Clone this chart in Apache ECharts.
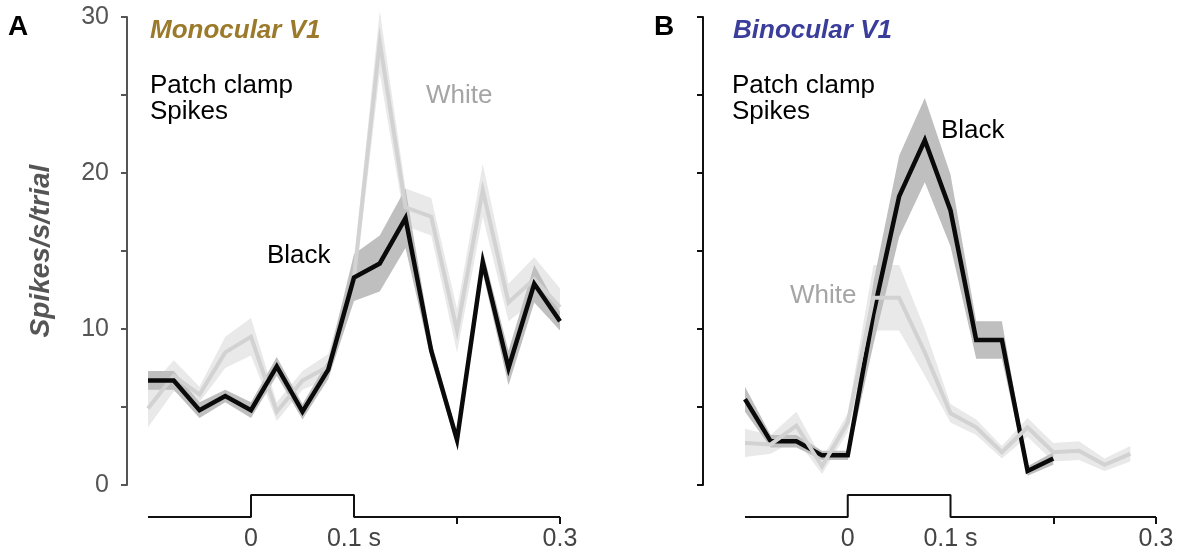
<!DOCTYPE html>
<html>
<head>
<meta charset="utf-8">
<script src="https://cdn.jsdelivr.net/npm/echarts@6/dist/echarts.min.js"></script>
<style>
  html, body { margin: 0; padding: 0; background: #fff; }
  #main { width: 1180px; height: 558px; }
</style>
</head>
<body>
<div id="main"></div>
<script>
// time bins (s)
var timeA = [-0.1, -0.075, -0.05, -0.025, 0, 0.025, 0.05, 0.075, 0.1, 0.125, 0.15, 0.175, 0.2, 0.225, 0.25, 0.275, 0.3];
var timeB = [-0.1, -0.075, -0.05, -0.025, 0, 0.025, 0.05, 0.075, 0.1, 0.125, 0.15, 0.175, 0.2, 0.225, 0.25, 0.275];

// A: monocular V1 (spikes/s/trial, mean and sem)
var blackA    = [6.7, 6.7, 4.8, 5.7, 4.8, 7.6, 4.7, 7.4, 13.3, 14.2, 17.1, 8.6, 2.9, 14.3, 7.5, 12.9, 10.5];
var blackSemA = [0.6, 0.6, 0.5, 0.4, 0.5, 0.6, 0.5, 0.6, 1.5, 1.8, 1.9, 0.6, 0.4, 0.7, 1.1, 1.2, 0.6];
var whiteA    = [4.9, 7.0, 5.8, 8.5, 9.5, 4.7, 6.7, 7.6, 13.3, 28.4, 17.8, 17.2, 9.9, 18.9, 11.7, 13.2, 11.4];
var whiteSemA = [1.2, 1.0, 0.5, 1.0, 1.2, 0.6, 0.6, 0.8, 1.0, 2.0, 1.2, 1.2, 1.4, 1.7, 1.2, 1.4, 1.2];

// B: binocular V1
var blackB    = [5.5, 2.8, 2.8, 1.9, 1.9, 11.0, 18.5, 22.1, 17.6, 9.3, 9.3, 0.9, 1.7];
var blackSemB = [0.8, 0.4, 0.4, 0.3, 0.3, 2.0, 2.6, 2.7, 2.3, 1.2, 1.2, 0.3, 0.4];
var whiteB    = [2.7, 2.6, 3.8, 1.2, 4.0, 12.0, 12.0, 8.5, 4.6, 3.7, 2.1, 3.7, 2.1, 2.2, 1.3, 2.0];
var whiteSemB = [0.9, 0.6, 0.9, 0.5, 0.6, 2.1, 2.1, 1.5, 0.6, 0.5, 0.4, 0.6, 0.6, 0.6, 0.4, 0.5];

// stimulus trace
var stimT = [-0.1, 0, 0, 0.1, 0.1, 0.3];
var stimV = [0, 0, 1, 1, 0, 0];

var yTicks = [0, 10, 20, 30];
var xLabels = {'0': '0', '0.1': '0.1 s', '0.3': '0.3'};

var FONT = "'Liberation Sans', Arial, sans-serif";
var C_BLACK = '#0a0a0a', C_BLACKBAND = '#bfbfbf';
var C_WHITE = '#d2d2d2', C_WHITEBAND = '#e9e9e9';

var dom = document.getElementById('main');
var myChart = echarts.init(dom);

function band(ax, t, m, s, color) {
    return {
        type: 'custom',
        xAxisIndex: ax, yAxisIndex: ax,
        silent: true,
        data: t.map(function (v, i) { return [v, m[i] - s[i], m[i] + s[i]]; }),
        encode: { x: 0, y: [1, 2] },
        renderItem: function (params, api) {
            if (params.dataIndex !== 0) return null;
            var up = [], lo = [];
            for (var i = 0; i < t.length; i++) {
                up.push(api.coord([t[i], m[i] + s[i]]));
                lo.unshift(api.coord([t[i], m[i] - s[i]]));
            }
            return { type: 'polygon', shape: { points: up.concat(lo) }, style: { fill: color } };
        }
    };
}

function line(ax, t, m, color, w) {
    return {
        type: 'line',
        xAxisIndex: ax, yAxisIndex: ax,
        silent: true,
        symbol: 'none',
        data: t.map(function (v, i) { return [v, m[i]]; }),
        lineStyle: { color: color, width: w, join: 'miter', miterLimit: 20 }
    };
}

function stim(ax) {
    return {
        type: 'line',
        xAxisIndex: ax, yAxisIndex: ax,
        silent: true,
        symbol: 'none',
        clip: false,
        data: stimT.map(function (v, i) { return [v, stimV[i]]; }),
        lineStyle: { color: '#111', width: 2 }
    };
}

function dataX(ax) {
    return { gridIndex: ax, type: 'value', min: -0.1, max: 0.3, show: false };
}

function stimX(ax) {
    return {
        gridIndex: ax, type: 'value', min: -0.1, max: 0.3, interval: 0.1,
        axisLine: { show: false, onZero: false },
        splitLine: { show: false },
        axisTick: { show: true, customValues: [0.2, 0.3], length: 7, lineStyle: { color: '#111', width: 2 } },
        axisLabel: {
            customValues: [0, 0.1, 0.3],
            margin: 10,
            fontSize: 25, fontFamily: FONT, color: '#444',
            formatter: function (v) { return xLabels[String(+v.toFixed(2))] || ''; }
        }
    };
}

function dataY(ax, offset, color, labels) {
    var y = {
        gridIndex: ax, type: 'value', min: 0, max: 30, interval: 5,
        offset: offset,
        splitLine: { show: false },
        axisLine: { show: true, onZero: false, lineStyle: { color: color, width: 2 } },
        axisTick: { show: true, length: 6, lineStyle: { color: color, width: 2 } },
        axisLabel: { show: labels, customValues: yTicks, margin: 18, fontSize: 25, fontFamily: FONT, color: '#555' }
    };
    if (labels) {
        y.name = 'Spikes/s/trial';
        y.nameLocation = 'middle';
        y.nameGap = 72;
        y.nameTextStyle = { fontSize: 28, fontFamily: FONT, fontStyle: 'italic', fontWeight: 'bold', color: '#555' };
    }
    return y;
}

function txt(x, y, s, size, color, extra) {
    var st = { text: s, fill: color, font: (extra || '') + ' ' + size + 'px ' + FONT, textVerticalAlign: 'middle', textAlign: 'left' };
    return { type: 'text', x: x, y: y, silent: true, style: st };
}

var option = {
    animation: false,
    backgroundColor: '#fff',
    grid: [
        { left: 148, top: 17, width: 412, height: 468 },
        { left: 148, top: 495, width: 412, height: 22 },
        { left: 745, top: 17, width: 411, height: 468 },
        { left: 745, top: 495, width: 411, height: 22 }
    ],
    xAxis: [dataX(0), stimX(1), dataX(2), stimX(3)],
    yAxis: [
        dataY(0, 21, '#555', true),
        { gridIndex: 1, type: 'value', min: 0, max: 1, show: false },
        dataY(2, 42, '#111', false),
        { gridIndex: 3, type: 'value', min: 0, max: 1, show: false }
    ],
    series: [
        band(0, timeA, whiteA, whiteSemA, C_WHITEBAND),
        band(0, timeA, blackA, blackSemA, C_BLACKBAND),
        line(0, timeA, whiteA, C_WHITE, 4),
        line(0, timeA, blackA, C_BLACK, 4.5),
        stim(1),
        band(2, timeB, whiteB, whiteSemB, C_WHITEBAND),
        band(2, timeB.slice(0, blackB.length), blackB, blackSemB, C_BLACKBAND),
        line(2, timeB.slice(0, blackB.length), blackB, C_BLACK, 4.5),
        line(2, timeB, whiteB, C_WHITE, 4),
        stim(3)
    ],
    graphic: [
        txt(8, 27, 'A', 28, '#000', 'bold'),
        txt(150, 31, 'Monocular V1', 26, '#9c7a2c', 'italic bold'),
        txt(150, 86, 'Patch clamp', 26, '#000'),
        txt(150, 112, 'Spikes', 26, '#000'),
        txt(426, 96, 'White', 26, '#a5a5a5'),
        txt(267, 256, 'Black', 26, '#000'),
        txt(654, 27, 'B', 28, '#000', 'bold'),
        txt(733, 31, 'Binocular V1', 26, '#3a3d99', 'italic bold'),
        txt(732, 86, 'Patch clamp', 26, '#000'),
        txt(732, 112, 'Spikes', 26, '#000'),
        txt(941, 131, 'Black', 26, '#000'),
        txt(790, 296, 'White', 26, '#a5a5a5')
    ]
};

if (option && typeof option === 'object') {
    myChart.setOption(option, true);
}
</script>
</body>
</html>
